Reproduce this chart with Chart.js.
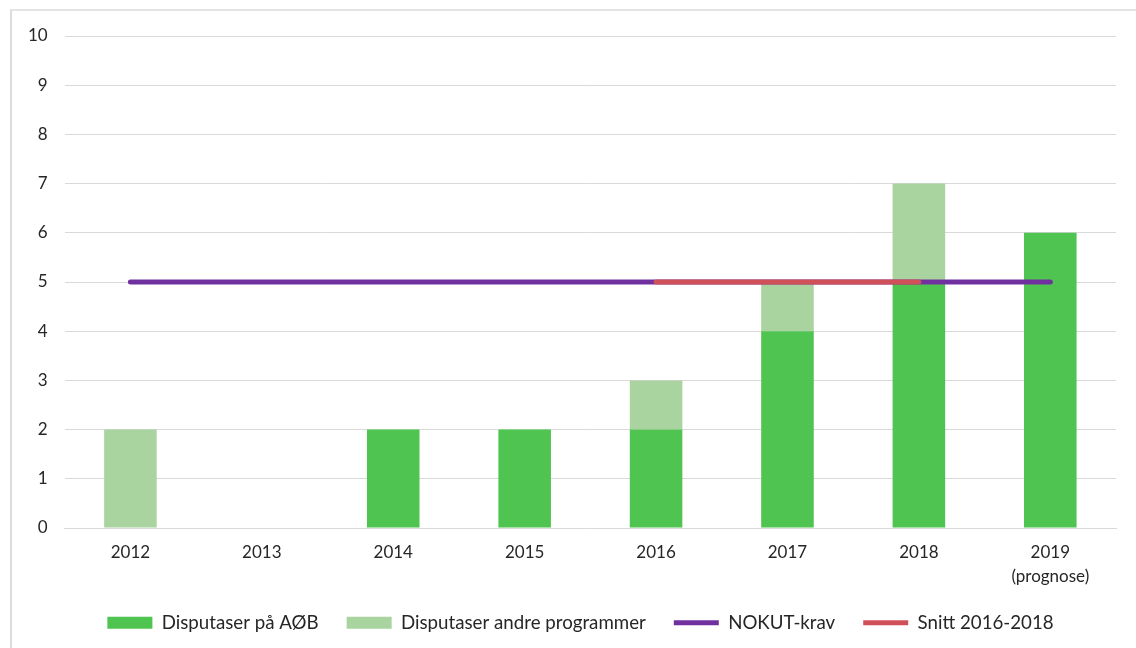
<!DOCTYPE html>
<html>
<head>
<meta charset="utf-8">
<script src="https://cdn.jsdelivr.net/npm/chart.js@4"></script>
<style>
  html, body { margin: 0; padding: 0; background: #fff; }
  #wrap { position: relative; width: 1136px; height: 648px; overflow: hidden; }
  #frame { position: absolute; left: 10px; top: 9px; width: 1200px; height: 700px;
           border-left: 2px solid #dcdcdc; border-top: 2px solid #e4e4e4; }
  #chart-area { position: absolute; left: 0; top: 0; }
</style>
</head>
<body>
<div id="wrap">
  <div id="frame"></div>
  <canvas id="chart-area" width="1136" height="648"></canvas>
</div>
<script>
var years = ['2012', '2013', '2014', '2015', '2016', '2017', '2018', ['2019', '(prognose)']];
var disputaserAOB = [0, 0, 2, 2, 2, 4, 5, 6];
var disputaserAndre = [2, 0, 0, 0, 1, 1, 2, 0];
var nokutKrav = [5, 5, 5, 5, 5, 5, 5, 5];
var snitt = [null, null, null, null, 5, 5, 5, null];

// tighter legend box so the plot gets more room, keeping the horizontal spacing
var legendFit = {
    id: 'legendFit',
    beforeInit: function (chart) {
        var fit = chart.legend.fit;
        var draw = chart.legend._draw;
        chart.legend.fit = function () {
            fit.call(this);
            this.height -= 13;
        };
        chart.legend._draw = function () {
            var c = this.ctx;
            c.save();
            c.translate(17, -8);
            draw.call(this);
            c.restore();
        };
    }
};

var config = {
    type: 'bar',
    data: {
        labels: years,
        datasets: [{
                label: 'Disputaser på AØB',
                data: disputaserAOB,
                backgroundColor: 'rgb(79,196,80)',
                borderWidth: 0,
                stack: 'bars',
                pointStyle: 'rect',
                order: 3
            }, {
                label: 'Disputaser andre programmer',
                data: disputaserAndre,
                backgroundColor: 'rgb(169,212,159)',
                borderWidth: 0,
                stack: 'bars',
                pointStyle: 'rect',
                order: 3
            }, {
                type: 'line',
                label: 'NOKUT-krav',
                data: nokutKrav,
                borderColor: 'rgb(112,48,160)',
                backgroundColor: 'rgb(112,48,160)',
                borderWidth: 5,
                borderCapStyle: 'round',
                pointRadius: 0,
                pointStyle: 'line',
                stack: 'nokut',
                order: 1
            }, {
                type: 'line',
                label: 'Snitt 2016-2018',
                data: snitt,
                borderColor: 'rgb(208,80,90)',
                backgroundColor: 'rgb(208,80,90)',
                borderWidth: 5,
                borderCapStyle: 'round',
                pointRadius: 0,
                pointStyle: 'line',
                stack: 'snitt',
                order: 0
            }]
    },
    options: {
        responsive: false,
        animation: false,
        layout: {
            padding: { left: 11, right: 20, top: 36, bottom: 11 }
        },
        datasets: {
            bar: { barPercentage: 0.4, categoryPercentage: 1 }
        },
        scales: {
            x: {
                stacked: true,
                grid: { display: false },
                border: { display: true, color: '#d9d9d9' },
                ticks: {
                    color: '#262626',
                    font: { family: 'Lato', size: 17, lineHeight: 1.45 },
                    padding: 4,
                    maxRotation: 0
                }
            },
            y: {
                stacked: true,
                min: 0,
                max: 10,
                grid: { color: '#d9d9d9', drawTicks: false },
                border: { display: false },
                ticks: {
                    stepSize: 1,
                    color: '#262626',
                    font: { family: 'Lato', size: 17 },
                    padding: 17
                }
            }
        },
        plugins: {
            tooltip: { enabled: false },
            legend: {
                position: 'bottom',
                labels: {
                    usePointStyle: true,
                    pointStyleWidth: 45,
                    boxHeight: 12,
                    padding: 28,
                    color: '#262626',
                    font: { family: 'Lato', size: 18.7 },
                    sort: function (a, b) { return a.datasetIndex - b.datasetIndex; }
                }
            }
        }
    },
    plugins: [legendFit]
};

var ctx = document.getElementById('chart-area').getContext('2d');
window.myChart = new Chart(ctx, config);
</script>
</body>
</html>
